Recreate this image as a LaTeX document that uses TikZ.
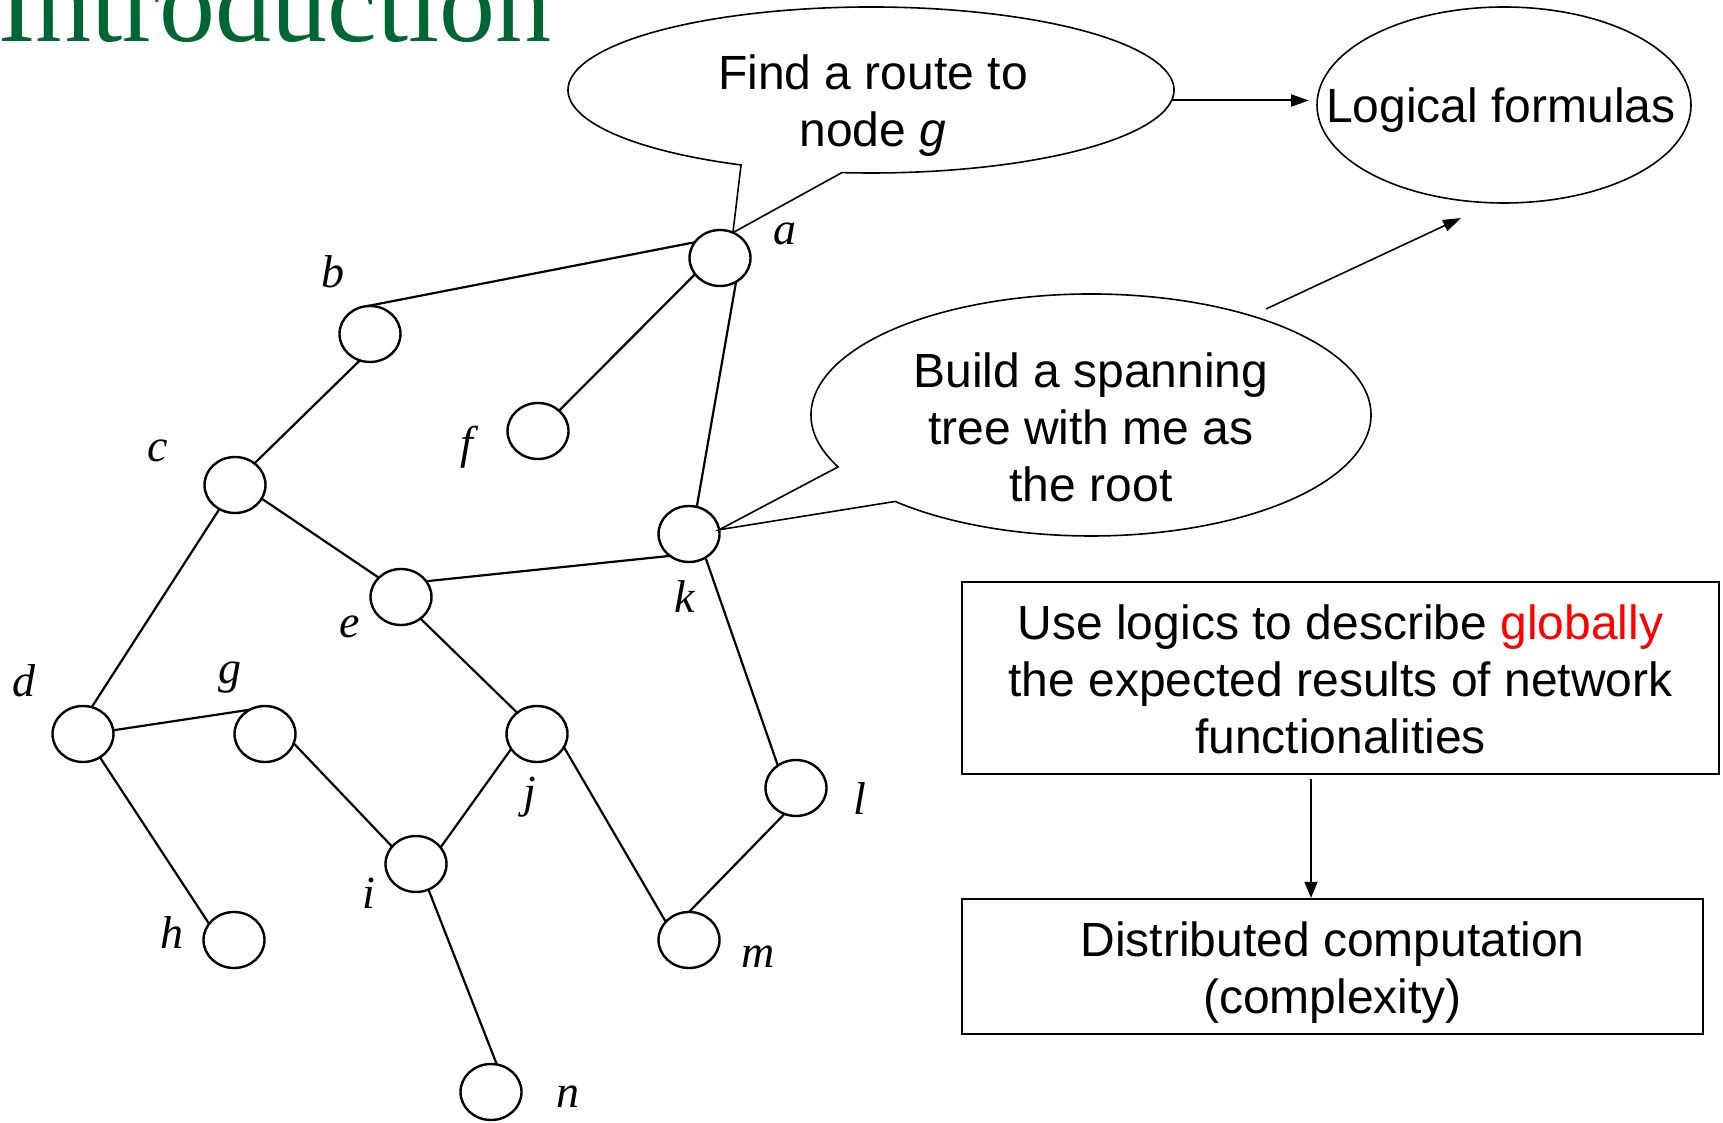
\documentclass[tikz,border=0pt]{standalone}
\usepackage{fontspec}
\setmainfont{Liberation Sans}
\newfontfamily\labelserif{Liberation Serif}
\usetikzlibrary{shapes.geometric,arrows.meta,calc}
\definecolor{titlegreen}{RGB}{0,102,51}
\begin{document}
\begin{tikzpicture}[x=1pt,y=1pt,
  vertex/.style={ellipse, draw, line width=2.4pt, minimum width=61pt, minimum height=56pt, inner sep=0pt, outer sep=0pt},
  link/.style={line width=2.2pt},
  lbl/.style={font=\labelserif\itshape\fontsize{46}{55}\selectfont, inner sep=0pt, anchor=base},
  txt/.style={font=\fontsize{48}{57}\selectfont, inner sep=0pt, align=center},
  bubble/.style={line width=1.6pt},
  holder/.style={ellipse, inner sep=0pt, outer sep=0pt},
  boxnode/.style={rectangle, draw, line width=2.2pt, inner sep=0pt, align=center, font=\fontsize{48}{57}\selectfont},
  arr/.style={line width=2pt, -{Triangle[length=18pt,width=12pt]}},
]
\useasboundingbox (0,0) rectangle (1723,1122);

% title
\node[anchor=base west, inner sep=0pt, font=\labelserif\fontsize{112}{112}\selectfont, text=titlegreen] (title) at (-2,1080) {Introduction};

% network nodes
\node[vertex] (a) at (720,864) {};
\node[vertex] (b) at (370,788) {};
\node[vertex] (c) at (235,637) {};
\node[vertex] (f) at (538,691) {};
\node[vertex] (k) at (689,588) {};
\node[vertex] (e) at (401,525) {};
\node[vertex] (d) at (83,388) {};
\node[vertex] (g) at (265,388) {};
\node[vertex] (j) at (537,388) {};
\node[vertex] (l) at (796,334) {};
\node[vertex] (i) at (416,258) {};
\node[vertex] (h) at (234,182) {};
\node[vertex] (m) at (689,182) {};
\node[vertex] (n) at (491,30) {};

% node names
\node[lbl] (la) at (785,877) {a};
\node[lbl] (lb) at (333,834) {b};
\node[lbl] (lc) at (158,660) {c};
\node[lbl] (lf) at (467,663.6) {f};
\node[lbl] (lk) at (685,509) {k};
\node[lbl] (le) at (350,484) {e};
\node[lbl] (ld) at (24,425) {d};
\node[lbl] (lg) at (230,438) {g};
\node[lbl] (lj) at (530,314) {j};
\node[lbl] (ll) at (860,307) {l};
\node[lbl] (li) at (369,214) {i};
\node[lbl] (lh) at (172,174) {h};
\node[lbl] (lm) at (758,155) {m};
\node[lbl] (ln) at (568,15) {n};

% links
\draw[link] (a.148) -- (b.96);
\draw[link] (a.213) -- (f.44);
\draw[link] (a.304) -- (k.74);
\draw[link] (b.249) -- (c.48);
\draw[link] (c.333) -- (e.139);
\draw[link] (c.237) -- (d.72);
\draw[link] (e.32) -- (k.229);
\draw[link] (e.312) -- (j.133);
\draw[link] (k.305) -- (l.129);
\draw[link] (d.7) -- (g.122);
\draw[link] (d.306) -- (h.147);
\draw[link] (g.342) -- (i.144);
\draw[link] (j.210) -- (i.34);
\draw[link] (j.334) -- (m.142);
\draw[link] (l.246) -- (m.90);
\draw[link] (i.296) -- (n.78);

% speech bubble of node a
\node[holder, minimum width=606pt, minimum height=166pt] (route) at (871,1032) {};
\draw[bubble] ($(route.center)+(264.5:303pt and 83pt)$) -- (a.63)
  -- ($(route.center)+(244.6:303pt and 83pt)$)
  arc[start angle=244.6, end angle=-95.5, x radius=303pt, y radius=83pt] -- cycle;
\node[txt] (routetext) at (873,1015.4) {\strut Find a route to\\ node \textit{g}\strut};

% speech bubble of node k
\node[holder, minimum width=560pt, minimum height=242pt] (tree) at (1091,707) {};
\draw[bubble] ($(tree.center)+(225.6:280pt and 121pt)$) -- (k.8)
  -- ($(tree.center)+(205.4:280pt and 121pt)$)
  arc[start angle=205.4, end angle=-134.4, x radius=280pt, y radius=121pt] -- cycle;
\node[txt] (treetext) at (1091,688.9) {\strut Build a spanning\\ tree with me as\\ the root\strut};

% logical formulas
\node[holder, draw, line width=1.6pt, minimum width=374pt, minimum height=196pt] (logic) at (1504,1017) {};
\node[txt] (logictext) at (1501,1010.4) {\strut Logical formulas};

% boxes
\node[boxnode, minimum width=757pt, minimum height=192pt] (box1) at (1340.5,444)
  {\rule{0pt}{38pt}Use logics to describe \textcolor{red}{globally}\\ the expected results of network\\ functionalities};
\node[boxnode, minimum width=741pt, minimum height=135pt] (box2) at (1332.5,155.5)
  {\rule{0pt}{47pt}Distributed computation\\ (complexity)};

% arrows
\draw[arr] (route.358.5) -- ($(route.358.5 -| logic.west)+(-8,0)$);
\coordinate (s2) at (1266,813);
\coordinate (t2) at (1461,904);
\draw[arr, line width=1.6pt] (s2) -- (t2);
\coordinate (ax) at (1311,0);
\draw[arr, line width=1.5pt, -{Triangle[length=16pt,width=13pt]}, shorten <=4pt] (box1.south -| ax) -- (box2.north -| ax);
\end{tikzpicture}
\end{document}
